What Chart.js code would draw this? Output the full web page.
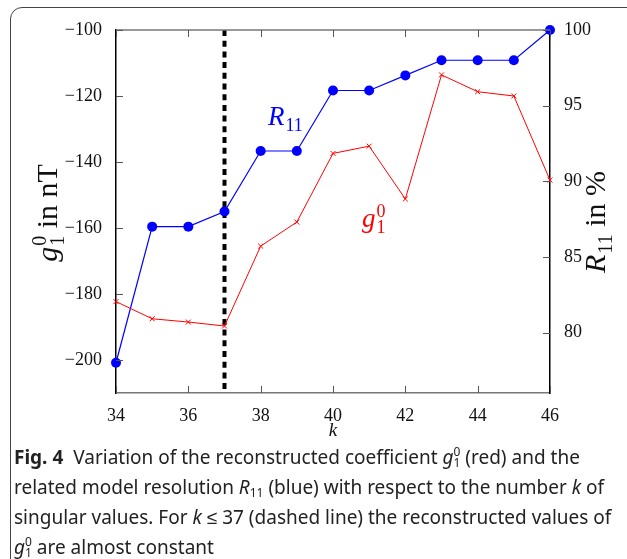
<!DOCTYPE html>
<html>
<head>
<meta charset="utf-8">
<script src="https://cdn.jsdelivr.net/npm/chart.js@4.4.1/dist/chart.umd.min.js"></script>
<style>
  html, body { margin: 0; padding: 0; background: #fff; }
  body { width: 627px; height: 559px; position: relative; overflow: hidden; }
  #frame {
    position: absolute; left: 10px; top: 7px; width: 640px; height: 580px;
    border: 1.5px solid #444; border-radius: 12px; box-sizing: border-box;
  }
  #wrap { position: absolute; left: 0; top: 0; width: 627px; height: 450px; }
  #caption {
    position: absolute; left: 14px; top: 442px; width: 610px;
    font-family: "Noto Sans", sans-serif; font-size: 19px; line-height: 30px;
    color: #222; white-space: nowrap;
  }
  #caption b { font-weight: bold; margin-right: 5px; }
  #caption .m { font-style: italic; }
  #caption .ss { display: inline-block; vertical-align: -3px; line-height: 0.9; font-size: 12px; text-align: left; }
  #caption .ss span { display: block; }
  #caption sub { font-size: 12px; vertical-align: -3px; line-height: 0; }
</style>
</head>
<body>
<div id="frame"></div>
<div id="wrap"><canvas id="chart"></canvas></div>
<div id="caption">
  <b>Fig. 4</b> Variation of the reconstructed coefficient <span class="m">g</span><span class="ss"><span>0</span><span>1</span></span> (red) and the<br>
  related model resolution <span class="m">R</span><sub>11</sub> (blue) with respect to the number <span class="m">k</span> of<br>
  singular values. For <span class="m">k</span> &le; 37 (dashed line) the reconstructed values of<br>
  <span class="m">g</span><span class="ss"><span>0</span><span>1</span></span> are almost constant
</div>
<script>
// number of singular values
var kValues = [34, 35, 36, 37, 38, 39, 40, 41, 42, 43, 44, 45, 46];
// reconstructed coefficient g1^0 in nT (left axis)
var g10 = [-182.3, -187.5, -188.5, -189.7, -165.5, -158.2, -137.4, -135.2, -151.2, -113.6, -118.7, -120.0, -145.5];
// model resolution R11 in % (right axis)
var r11 = [78, 87, 87, 88, 92, 92, 96, 96, 97, 98, 98, 98, 100];
// dashed cutoff
var cutoffK = 37;

var serif = '"Liberation Serif", "DejaVu Serif", serif';

function pairs(ys) {
    return kValues.map(function(k, i) { return {x: k, y: ys[i]}; });
}

// draws text like "g_1^0 in nT": base italic, then sub/sup, then rest
function mathText(ctx, x, y, base, sub, sup, rest, size, color) {
    ctx.fillStyle = color;
    ctx.textBaseline = 'alphabetic';
    ctx.textAlign = 'left';
    ctx.font = 'italic ' + size + 'px ' + serif;
    ctx.fillText(base, x, y);
    var w = ctx.measureText(base).width;
    var small = Math.round(size * 0.68);
    ctx.font = small + 'px ' + serif;
    var ws = 0;
    if (sub) {
        ctx.fillText(sub, x + w + 1, y + size * 0.22);
        ws = ctx.measureText(sub).width;
    }
    if (sup) {
        ctx.fillText(sup, x + w + 1, y - size * 0.38);
        ws = Math.max(ws, ctx.measureText(sup).width);
    }
    var total = w + 1 + ws;
    if (rest) {
        ctx.font = size + 'px ' + serif;
        ctx.fillText(rest, x + total, y);
        total += ctx.measureText(rest).width;
    }
    return total;
}

function measureMath(ctx, base, sub, sup, rest, size) {
    ctx.save();
    ctx.font = 'italic ' + size + 'px ' + serif;
    var w = ctx.measureText(base).width + 1;
    ctx.font = Math.round(size * 0.68) + 'px ' + serif;
    w += Math.max(sub ? ctx.measureText(sub).width : 0, sup ? ctx.measureText(sup).width : 0);
    ctx.font = size + 'px ' + serif;
    if (rest) w += ctx.measureText(rest).width;
    ctx.restore();
    return w;
}

var decorPlugin = {
    id: 'decor',
    beforeDatasetsDraw(chart) {
        var ctx = chart.ctx, a = chart.chartArea;
        var px = chart.scales.x.getPixelForValue(cutoffK);
        ctx.save();
        ctx.strokeStyle = '#000';
        ctx.lineWidth = 4;
        ctx.setLineDash([6, 4.7]);
        ctx.beginPath();
        ctx.moveTo(px, a.top);
        ctx.lineTo(px, a.bottom);
        ctx.stroke();
        ctx.restore();
    },
    afterDraw(chart) {
        var ctx = chart.ctx, a = chart.chartArea, s = chart.scales;
        ctx.save();
        function seg(x1, y1, x2, y2) {
            ctx.beginPath(); ctx.moveTo(x1, y1); ctx.lineTo(x2, y2); ctx.stroke();
        }
        // top spine
        ctx.strokeStyle = '#777';
        ctx.lineWidth = 1.5;
        seg(a.left, a.top, a.right, a.top);
        // inward ticks
        ctx.strokeStyle = '#555';
        ctx.lineWidth = 1;
        s.x.ticks.forEach(function(t) {
            var p = Math.round(s.x.getPixelForValue(t.value)) + 0.5;
            seg(p, a.bottom, p, a.bottom - 7);
            seg(p, a.top, p, a.top + 7);
        });
        s.y.ticks.forEach(function(t) {
            var p = Math.round(s.y.getPixelForValue(t.value)) + 0.5;
            seg(a.left, p, a.left + 7, p);
        });
        s.y2.ticks.forEach(function(t) {
            var p = Math.round(s.y2.getPixelForValue(t.value)) + 0.5;
            seg(a.right, p, a.right - 7, p);
        });

        // axis titles
        var size = 30;
        ctx.save();
        ctx.translate(57, 213);
        ctx.rotate(-Math.PI / 2);
        var w = measureMath(ctx, 'g', '1', '0', ' in nT', size);
        mathText(ctx, -w / 2, 0, 'g', '1', '0', ' in nT', size, '#111');
        ctx.restore();

        ctx.save();
        ctx.translate(605, 222);
        ctx.rotate(-Math.PI / 2);
        w = measureMath(ctx, 'R', '11', '', ' in %', size);
        mathText(ctx, -w / 2, 0, 'R', '11', '', ' in %', size, '#111');
        ctx.restore();

        // x title
        ctx.font = 'italic 19px ' + serif;
        ctx.fillStyle = '#111';
        ctx.textAlign = 'center';
        ctx.textBaseline = 'alphabetic';
        ctx.fillText('k', (a.left + a.right) / 2, 436);

        // series labels
        mathText(ctx, s.x.getPixelForValue(38.2), s.y2.getPixelForValue(93.7), 'R', '11', '', '', 27, '#0000ff');
        mathText(ctx, s.x.getPixelForValue(40.8), s.y.getPixelForValue(-159.7), 'g', '1', '0', '', 27, '#ff0000');
        ctx.restore();
    }
};

var tickFont = {family: serif, size: 18};

new Chart(document.getElementById('chart'), {
    type: 'line',
    data: {
        datasets: [{
            label: 'g10',
            data: pairs(g10),
            yAxisID: 'y',
            borderColor: '#ff0000',
            backgroundColor: '#ff0000',
            borderWidth: 1,
            pointStyle: 'crossRot',
            pointRadius: 3.5,
            pointBorderWidth: 1,
            tension: 0,
            clip: false
        }, {
            label: 'R11',
            data: pairs(r11),
            yAxisID: 'y2',
            borderColor: '#0000ff',
            backgroundColor: '#0000ff',
            borderWidth: 1.2,
            pointStyle: 'circle',
            pointRadius: 5,
            pointBorderWidth: 0,
            tension: 0,
            clip: false
        }]
    },
    options: {
        responsive: true,
        maintainAspectRatio: false,
        animation: false,
        layout: {padding: {top: 30, left: 0, right: 0, bottom: 0}},
        plugins: {legend: {display: false}, tooltip: {enabled: false}},
        scales: {
            x: {
                type: 'linear',
                min: 34, max: 46,
                grid: {display: false},
                border: {display: true, color: '#777', width: 1.5},
                ticks: {stepSize: 2, font: tickFont, color: '#111', padding: 4, maxRotation: 0},
                afterFit: function(sc) { sc.height = 57; }
            },
            y: {
                position: 'left',
                min: -210, max: -100,
                grid: {display: false},
                border: {display: true, color: '#000', width: 1.5},
                ticks: {
                    stepSize: 20, font: tickFont, color: '#111', padding: 6,
                    callback: function(v) { return String(v).replace('-', '\u2212'); }
                },
                afterBuildTicks: function(sc) { sc.ticks = sc.ticks.filter(function(t) { return t.value % 20 === 0; }); },
                afterFit: function(sc) { sc.width = 116; }
            },
            y2: {
                position: 'right',
                min: 76, max: 100,
                grid: {display: false},
                border: {display: true, color: '#000', width: 1.5},
                ticks: {stepSize: 5, font: tickFont, color: '#111', padding: 6},
                afterBuildTicks: function(sc) { sc.ticks = sc.ticks.filter(function(t) { return t.value % 5 === 0; }); },
                afterFit: function(sc) { sc.width = 77; }
            }
        }
    },
    plugins: [decorPlugin]
});
</script>
</body>
</html>
